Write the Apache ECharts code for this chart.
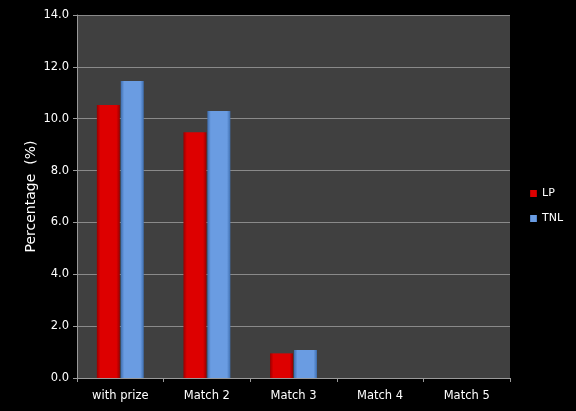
<!DOCTYPE html>
<html><head><meta charset="utf-8">
<script src="https://cdn.jsdelivr.net/npm/echarts@6/dist/echarts.min.js"></script>
<style>html,body{margin:0;padding:0;background:#000;}#c{width:576px;height:411px;}</style>
</head><body><div id="c"></div>
<script>
var categories = ['with prize', 'Match 2', 'Match 3', 'Match 4', 'Match 5'];
var lpValues = [10.53, 9.48, 0.95, 0, 0];
var tnlValues = [11.45, 10.3, 1.08, 0, 0];
var seriesNames = ['LP', 'TNL'];

function grad(edge, mid) {
  return new echarts.graphic.LinearGradient(0, 0, 1, 0, [
    {offset: 0, color: edge}, {offset: 0.15, color: mid}, {offset: 0.85, color: mid}, {offset: 1, color: edge}
  ]);
}
var chart = echarts.init(document.getElementById('c'));
chart.setOption({
  backgroundColor: '#000',
  animation: false,
  grid: {left: 77, right: 66, top: 15, bottom: 33, backgroundColor: '#404040', show: true, borderWidth: 0},
  legend: {
    orient: 'vertical', left: 525, top: 183, itemWidth: 7, itemHeight: 7, itemGap: 14,
    icon: 'rect',
    textStyle: {color: '#fff', fontSize: 11, fontFamily: 'DejaVu Sans'},
    data: seriesNames
  },
  xAxis: {
    type: 'category', data: categories,
    axisLine: {lineStyle: {color: '#999'}},
    axisTick: {show: true, lineStyle: {color: '#999'}, length: 4},
    axisLabel: {color: '#fff', fontSize: 11.5, fontFamily: 'DejaVu Sans', margin: 12}
  },
  yAxis: {
    type: 'value', min: 0, max: 14, interval: 2,
    name: 'Percentage  (%)', nameLocation: 'middle', nameGap: 39, nameMoveOverlap: false,
    nameTextStyle: {color: '#fff', fontSize: 14, fontFamily: 'DejaVu Sans'},
    axisLine: {show: true, lineStyle: {color: '#999'}},
    axisTick: {show: true, lineStyle: {color: '#999'}, length: 4},
    splitLine: {lineStyle: {color: '#8a8a8a'}},
    axisLabel: {color: '#fff', fontSize: 11.5, fontFamily: 'DejaVu Sans', margin: 8,
      formatter: function (v) { return v.toFixed(1); }}
  },
  series: [
    {name: seriesNames[0], type: 'bar', data: lpValues, barWidth: 23, barGap: '4%',
     itemStyle: {color: grad('#990000', '#dd0000'), borderWidth: 0}},
    {name: seriesNames[1], type: 'bar', data: tnlValues, barWidth: 23,
     itemStyle: {color: grad('#3f6fb0', '#6a9ce2'), borderWidth: 0}}
  ]
});
</script></body></html>
